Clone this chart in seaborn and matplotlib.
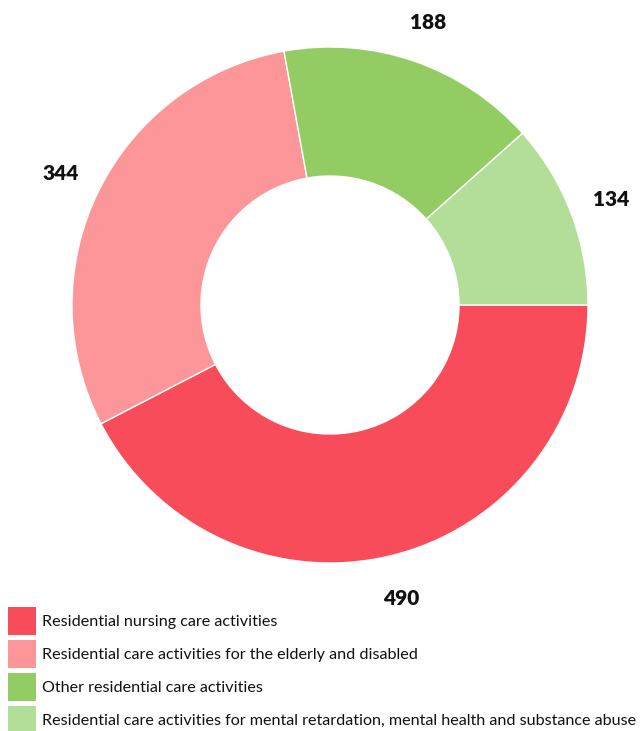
import matplotlib
matplotlib.use("Agg")
import matplotlib.pyplot as plt
import seaborn as sns
from matplotlib.patches import Rectangle

categories = [
    "Residential nursing care activities",
    "Residential care activities for the elderly and disabled",
    "Other residential care activities",
    "Residential care activities for mental retardation, mental health and substance abuse",
]
values = [490, 344, 188, 134]
colors = ["#F84C5B", "#FC9698", "#93CC62", "#B3DE98"]

sns.set_theme(style="white")
plt.rcParams["font.family"] = ["Lato", "DejaVu Sans"]

W, H = 641, 731
fig = plt.figure(figsize=(W / 100, H / 100), dpi=100)
cx, cy, R = 330, 305, 258
ax = fig.add_axes([(cx - R) / W, (H - cy - R) / H, 2 * R / W, 2 * R / H])
wedges, texts = ax.pie(
    values,
    colors=colors,
    startangle=0,
    counterclock=False,
    radius=1,
    labels=[str(v) for v in values],
    labeldistance=1.165,
    wedgeprops=dict(width=0.5, edgecolor="white", linewidth=1),
    textprops=dict(fontsize=15, fontweight="heavy", color="#111111"),
)
for t in texts:
    t.set_ha("center")
    t.set_va("center_baseline")
ax.set_xlim(-1, 1)
ax.set_ylim(-1, 1)
ax.axis("off")

# legend drawn manually in figure pixel positions
renderer = fig.canvas.get_renderer()
legend_texts = []
for i, (lab, c) in enumerate(zip(categories, colors)):
    top = 607 + 33 * i
    fig.add_artist(Rectangle((8 / W, (H - top - 28) / H), 28 / W, 28 / H,
                             transform=fig.transFigure, facecolor=c,
                             edgecolor="none"))
    legend_texts.append(fig.text(42 / W, (H - top - 15) / H, lab, fontsize=11.8,
                                 color="#111111", ha="left", va="center"))
# fit the longest legend line to the reference width
widest = max(t.get_window_extent(renderer).width for t in legend_texts)
fs = 11.8 * 598 / widest
for t in legend_texts:
    t.set_fontsize(fs)

fig.savefig("out.png", dpi=100)
